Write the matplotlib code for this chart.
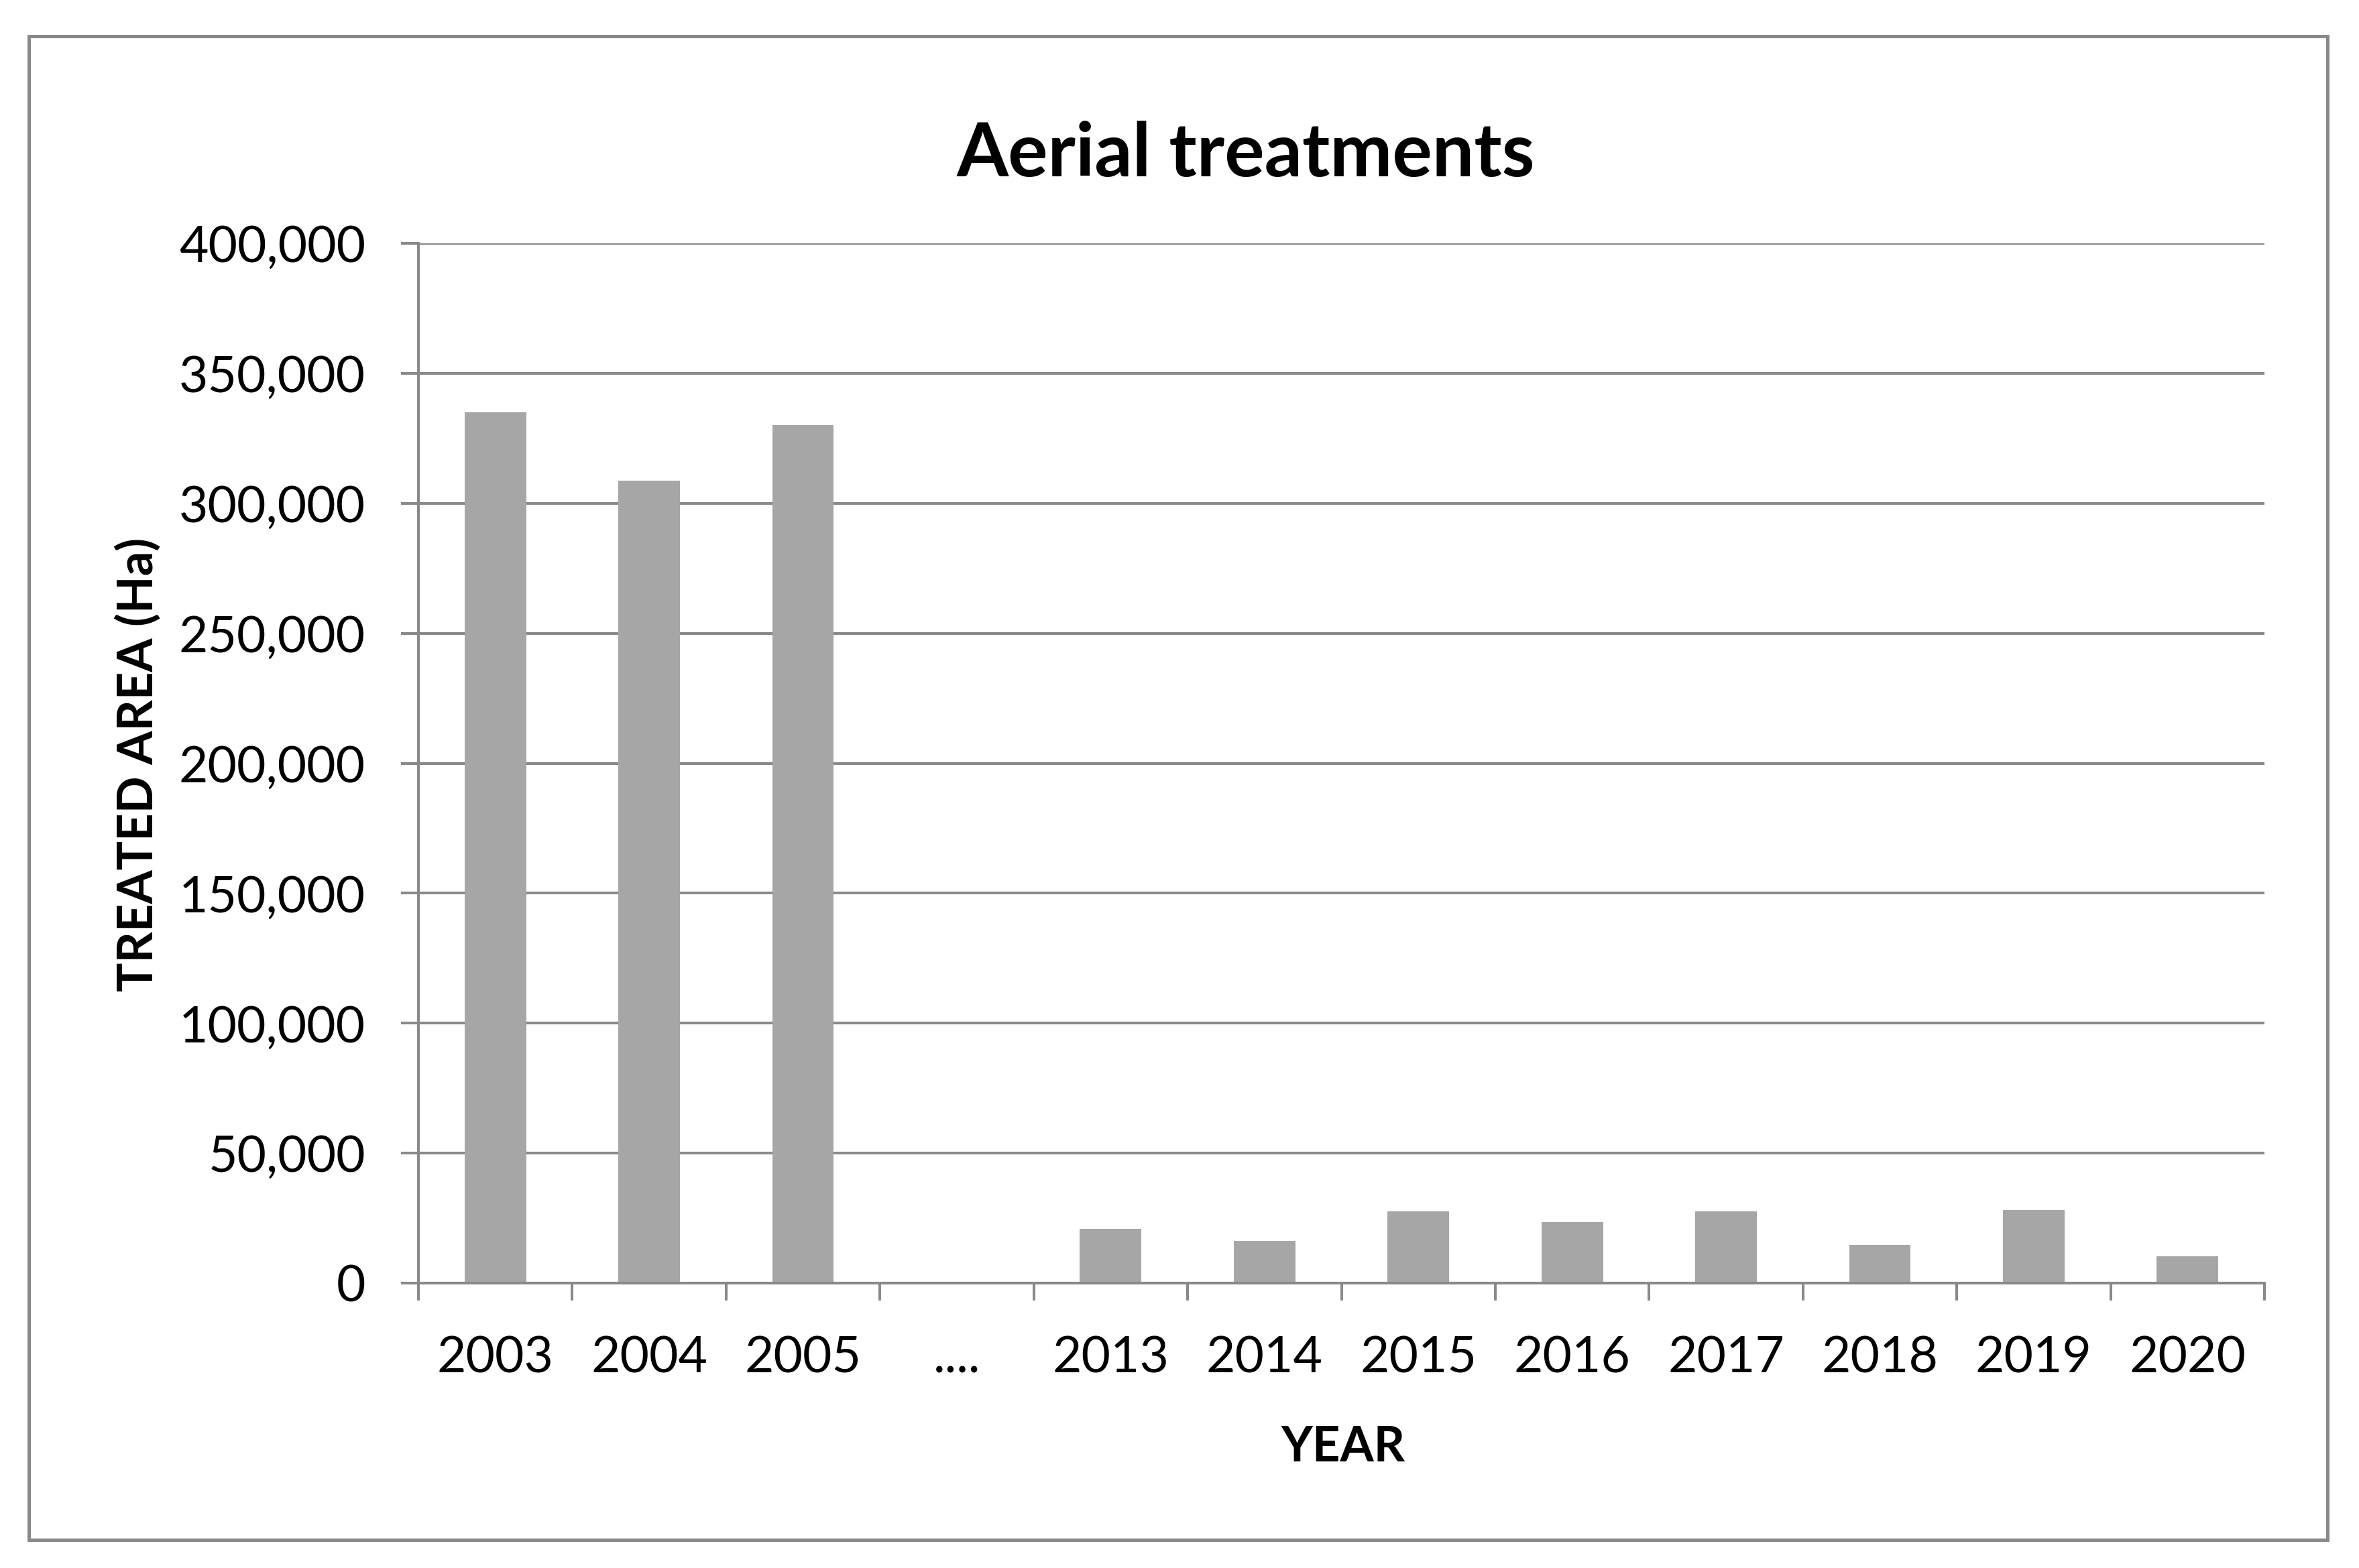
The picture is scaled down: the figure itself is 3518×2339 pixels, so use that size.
import numpy as np
import matplotlib
matplotlib.use("Agg")
import matplotlib.pyplot as plt
from matplotlib.patches import Rectangle
from matplotlib.ticker import FuncFormatter

plt.rcParams['font.family'] = ['Lato', 'DejaVu Sans']

# data
years = ["2003", "2004", "2005", "....", "2013", "2014", "2015",
         "2016", "2017", "2018", "2019", "2020"]
treated_area = [335000, 308800, 330000, np.nan, 20900, 16200, 27600,
                23500, 27600, 14700, 28100, 10300]
y_ticks = [0, 50000, 100000, 150000, 200000, 250000, 300000, 350000, 400000]

grey = "#898989"
bar_grey = "#a6a6a6"

W, H = 3518, 2339
dpi = 200
fig = plt.figure(figsize=(W / dpi, H / dpi), dpi=dpi)
fig.patch.set_facecolor("white")

left, right, top, bottom = 624, 3377, 363, 1914
ax = fig.add_axes([left / W, 1 - bottom / H, (right - left) / W, (bottom - top) / H])

x = np.arange(len(years))
ax.bar(x, treated_area, width=0.40, color=bar_grey, zorder=3)

ax.set_xlim(-0.5, len(years) - 0.5)
ax.set_ylim(0, 400000)
ax.set_yticks(y_ticks)
ax.yaxis.set_major_formatter(FuncFormatter(lambda v, p: "{:,.0f}".format(v)))
ax.grid(axis="y", color=grey, linewidth=1.45, zorder=0)

# category labels in the middle, tick marks between categories
ax.set_xticks(x)
ax.set_xticklabels(years)
ax.set_xticks(np.arange(-0.5, len(years)), minor=True)
ax.tick_params(axis="x", which="major", length=0, pad=28, labelsize=27)
ax.tick_params(axis="x", which="minor", length=9.4, width=1.45, color=grey)
ax.tick_params(axis="y", length=9.4, width=1.45, color=grey, pad=19, labelsize=27)

for s in ["top", "right"]:
    ax.spines[s].set_visible(False)
for s in ["left", "bottom"]:
    ax.spines[s].set_color(grey)
    ax.spines[s].set_linewidth(1.45)
    ax.spines[s].set_zorder(4)

fig.text(1858 / W, 1 - 231 / H, "Aerial treatments", ha="center", va="center",
         fontsize=40, fontweight="bold")
fig.text(2003 / W, 1 - 2160 / H, "YEAR", ha="center", va="center",
         fontsize=26, fontweight="bold")
fig.text(206 / W, 1 - 1140 / H, "TREATED AREA (Ha)", ha="center", va="center",
         rotation=90, fontsize=26, fontweight="bold")

# outer chart border
fig.patches.append(Rectangle((43 / W, 1 - 2297 / H), (3471 - 43) / W, (2297 - 54) / H,
                             transform=fig.transFigure, fill=False,
                             edgecolor=grey, linewidth=1.8))

fig.savefig("out.png", dpi=dpi, facecolor="white")
